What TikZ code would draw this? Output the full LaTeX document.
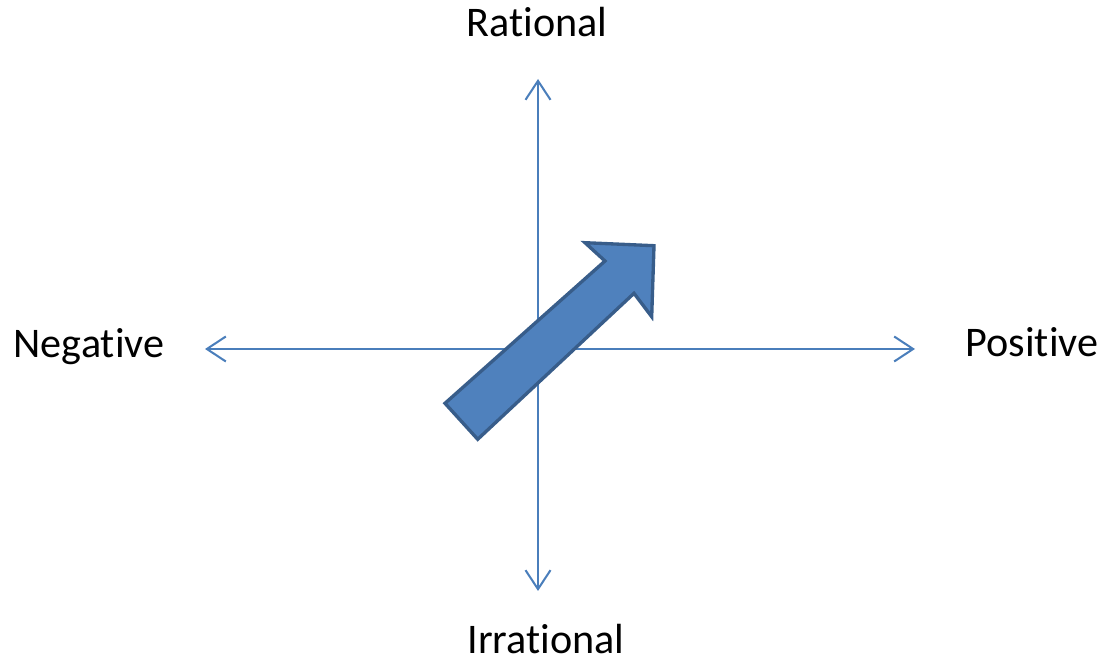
\documentclass[tikz,border=0pt]{standalone}
\usepackage{fontspec}
\setmainfont[Ligatures=CommonOff]{Carlito}
\usetikzlibrary{arrows.meta}
\definecolor{axisblue}{HTML}{4A7EBB}
\definecolor{fillblue}{HTML}{4F81BD}
\definecolor{edgeblue}{HTML}{385D8A}
\begin{document}
\begin{tikzpicture}[
    x=0.02cm, y=-0.02cm,
    label/.style={inner sep=0pt, font=\fontsize{24}{28}\selectfont},
    axis/.style={<->, >={Straight Barb[length=0.38cm, width=0.5cm]}, axisblue, line width=1.15pt},
    bigarrow/.style={fill=fillblue, draw=edgeblue, line width=1.9pt, line join=miter}
  ]
    \useasboundingbox (0,0) rectangle (1103,665);
    \node[label] (rat) at (537,22) {Rational};
    \node[label] (irr) at (546,639) {Irrational};
    \node[label] (neg) at (89,347) {Negative};
    \node[label] (pos) at (1032,342) {Positive};
    \coordinate (top) at (538,79);
    \coordinate (bot) at (538,591);
    \coordinate (left) at (205,349);
    \coordinate (right) at (915,349);
    \draw[axis] (top) -- (bot);
    \draw[axis] (left) -- (right);
    % diagonal block arrow
    \draw[bigarrow] (477.7,439.3) -- (445,403.3) -- (605,261) -- (585,242.7)
      -- (654,245.7) -- (651.7,316.7) -- (634,293.3) -- cycle;
  \end{tikzpicture}
\end{document}
